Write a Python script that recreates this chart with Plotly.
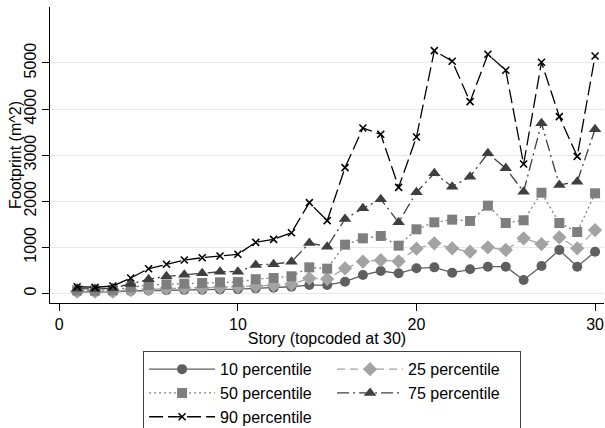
import plotly.graph_objects as go

stories = list(range(1, 31))

p10 = [30, 30, 30, 50, 60, 70, 75, 80, 85, 90, 108, 122, 143, 180, 180, 252, 397, 484, 434, 543,
       564, 448, 521, 578, 578, 289, 593, 940, 578, 903]
p25 = [35, 35, 40, 70, 90, 105, 115, 120, 130, 143, 158, 173, 195, 326, 310, 543, 690, 720, 695, 970,
       1085, 977, 903, 998, 940, 1194, 1070, 1216, 977, 1374]
p50 = [65, 60, 70, 130, 180, 195, 210, 225, 240, 245, 307, 332, 370, 564, 535, 1056, 1194, 1244, 1034, 1389,
       1541, 1599, 1570, 1903, 1526, 1585, 2184, 1526, 1331, 2171]
p75 = [100, 95, 110, 205, 304, 369, 404, 434, 469, 469, 614, 633, 684, 1092, 1012, 1613, 1845, 2041, 1541, 2193,
       2605, 2315, 2532, 3040, 2714, 2206, 3691, 2351, 2423, 3561]
p90 = [143, 130, 158, 332, 534, 630, 723, 773, 810, 847, 1107, 1172, 1316, 1968, 1577, 2727, 3589, 3452, 2301, 3393,
       5267, 5037, 4160, 5189, 4841, 2807, 5015, 3834, 2974, 5152]

series = [
    ("10 percentile", p10, "#5f5f5f", "solid", "circle", 10),
    ("25 percentile", p25, "#a3a3a3", "8px,5px", "diamond", 11),
    ("50 percentile", p50, "#7f7f7f", "2px,3px", "square", 10),
    ("75 percentile", p75, "#3f3f3f", "12px,4px,2px,4px", "triangle-up", 11),
    ("90 percentile", p90, "#000000", "14px,5px", "x-thin-open", 7),
]

fig = go.Figure()
for name, vals, col, dash, sym, size in series:
    marker = dict(symbol=sym, size=size, color=col)
    if sym == "x-thin-open":
        marker["line"] = dict(color=col, width=1.6)
    fig.add_trace(go.Scatter(
        x=stories, y=vals, name=name, mode="lines+markers",
        line=dict(color=col, width=1.3, dash=dash),
        marker=marker,
    ))

fig.update_layout(
    width=605, height=428,
    margin=dict(l=50, r=1, t=7, b=125, autoexpand=False),
    paper_bgcolor="white", plot_bgcolor="white",
    font=dict(family="Liberation Sans, Arial, sans-serif", color="black", size=16),
    showlegend=True,
    legend=dict(
        orientation="h",
        x=0.168, xanchor="left", y=-0.163, yanchor="top",
        bordercolor="#404040", borderwidth=1,
        font=dict(size=16),
        entrywidth=107, entrywidthmode="pixels",
        itemwidth=66, tracegroupgap=0,
        traceorder="normal",
    ),
    annotations=[dict(
        text="Footprint (m^2)", textangle=-90, showarrow=False,
        xref="paper", yref="paper", x=-0.0632, y=0.5,
        xanchor="center", yanchor="middle", font=dict(size=16),
    )],
)

fig.update_xaxes(
    range=[-0.52, 30.5], tickvals=[0, 10, 20, 30],
    showline=True, linecolor="black", linewidth=1,
    ticks="outside", ticklen=7, tickcolor="black",
    showgrid=False, zeroline=False,
    title=dict(text="Story (topcoded at 30)", font=dict(size=16), standoff=0),
    tickfont=dict(size=16),
)
fig.update_yaxes(
    range=[-210, 6215], tickvals=[0, 1000, 2000, 3000, 4000, 5000],
    showline=True, linecolor="black", linewidth=1,
    ticks="outside", ticklen=7, tickcolor="black",
    showgrid=True, gridcolor="#e8e8e8", gridwidth=1,
    zeroline=False, tickangle=-90,
    tickfont=dict(size=16),
)

fig.write_html("out.html")
